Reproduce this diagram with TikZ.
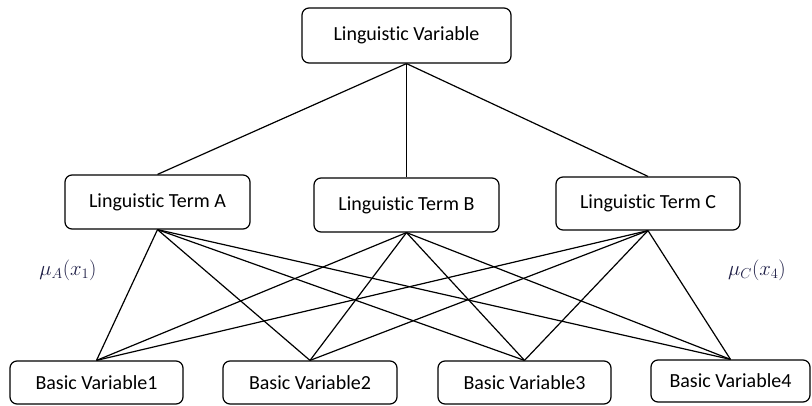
\documentclass[tikz,border=0pt]{standalone}
\usepackage{fontspec}
\setmainfont{Carlito}[Ligatures=NoCommon]
\begin{document}
\begin{tikzpicture}[x=1pt,y=-1pt,
  box/.style={draw, line width=1.2pt, rounded corners=7pt, inner sep=0pt, align=center,
              font=\fontsize{20}{24}\selectfont},
  conn/.style={line width=1.2pt},
  mulabel/.style={inner sep=0pt, text={rgb,255:red,30;green,30;blue,70}, font=\fontsize{21}{24}\selectfont}]
\useasboundingbox[fill=white] (0,0) rectangle (812,405);
\node[box, minimum width=209, minimum height=55] (lv) at (406.5,35.5) {Linguistic Variable};
\node[box, minimum width=185, minimum height=54] (ta) at (157.5,202) {Linguistic Term A};
\node[box, minimum width=185, minimum height=54] (tb) at (406.5,205) {Linguistic Term B};
\node[box, minimum width=184, minimum height=53] (tc) at (648,203.5) {Linguistic Term C};
\node[box, minimum width=173, minimum height=43] (b1) at (96.5,382.5) {Basic Variable1};
\node[box, minimum width=174, minimum height=43] (b2) at (310,382.5) {Basic Variable2};
\node[box, minimum width=173, minimum height=43] (b3) at (524.5,382.5) {Basic Variable3};
\node[box, minimum width=159, minimum height=42] (b4) at (730.5,381) {Basic Variable4};
\node[mulabel] (mua) at (68,270) {$\mu_A(x_1)$};
\node[mulabel] (muc) at (757,270) {$\mu_C(x_4)$};
\foreach \t in {ta,tb,tc} {
  \draw[conn] (lv.south) -- (\t.north);
  \foreach \b in {b1,b2,b3,b4} {
    \draw[conn] (\t.south) -- (\b.north);
  }
}
\end{tikzpicture}
\end{document}
